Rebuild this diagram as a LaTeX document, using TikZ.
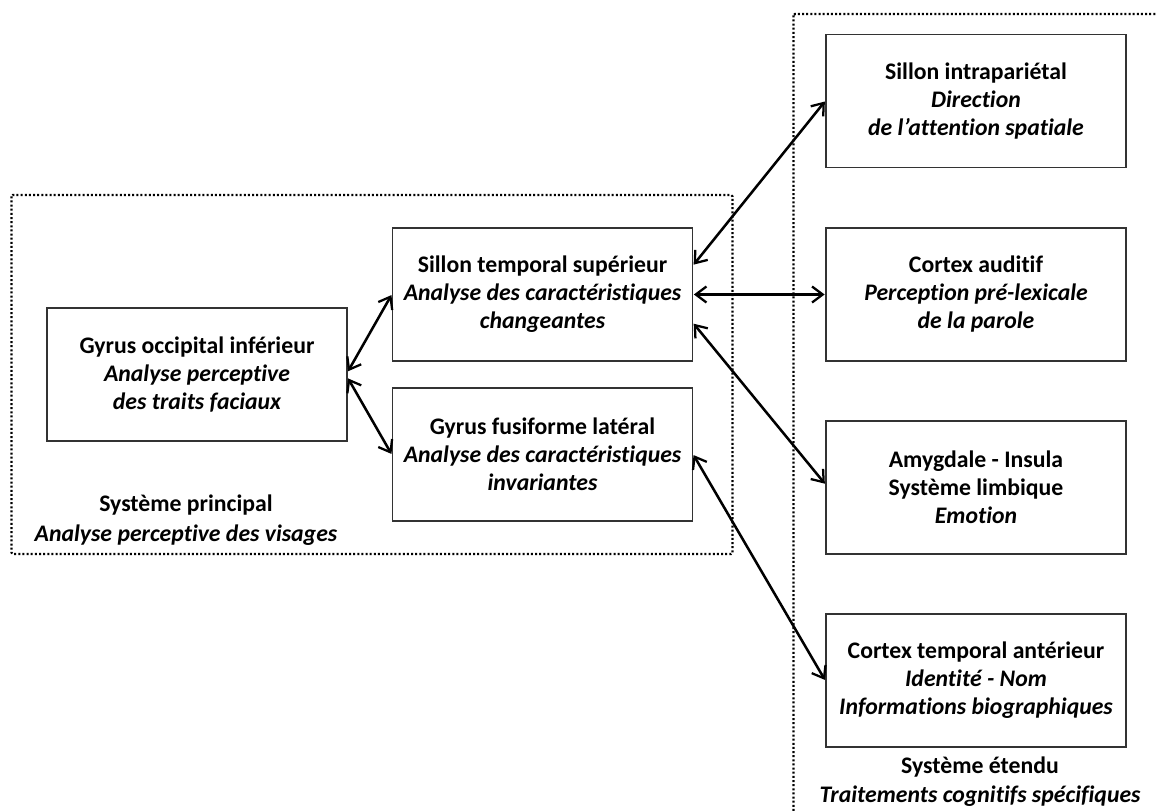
\documentclass[tikz,border=0pt]{standalone}
\usepackage{fontspec}
\setmainfont{Carlito}[Ligatures=NoCommon]
\usetikzlibrary{arrows.meta}
\begin{document}
\begin{tikzpicture}[x=0.75pt,y=-0.75pt,
  region/.style={line width=1.6pt, dash pattern=on 1.5pt off 1.6pt, rounded corners=1pt},
  area/.style={draw=black!80, line width=1.1pt, minimum width=225pt, minimum height=100pt,
     align=center, inner sep=0pt, font=\fontsize{17.8}{21}\selectfont\bfseries},
  lbl/.style={align=center, inner sep=0pt, font=\fontsize{17.8}{21.5}\selectfont\bfseries},
  link/.style={line width=1.9pt, {Straight Barb[length=8pt,width=12pt,line width=1.7pt]}-{Straight Barb[length=8pt,width=12pt,line width=1.7pt]}, shorten <=0.5pt, shorten >=0.5pt}]
\useasboundingbox (0,0) rectangle (1157,811);
\clip (0,0) rectangle (1157,811);
% dotted regions
\draw[region] (11.5,195) rectangle (732.5,554);
\draw[region] (793.5,14) rectangle (1175,830);
% boxes
\node[area] (occ) at (197,374.5) {Gyrus occipital inférieur\\\itshape Analyse perceptive\\\itshape des traits faciaux};
\node[area] (sts) at (542.5,294.5) {Sillon temporal supérieur\\\itshape Analyse des caractéristiques\\\itshape changeantes};
\node[area] (ffa) at (542.5,454.5) {Gyrus fusiforme latéral\\\itshape Analyse des caractéristiques\\\itshape invariantes};
\node[area] (ips) at (976,101) {Sillon intrapariétal\\\itshape Direction\\\itshape de l’attention spatiale};
\node[area] (aud) at (976,294.5) {Cortex auditif\\\itshape Perception pré-lexicale\\\itshape de la parole};
\node[area] (amy) at (976,487.5) {Amygdale - Insula\\Système limbique\\\itshape Emotion};
\node[area] (ata) at (976,680.5) {Cortex temporal antérieur\\\itshape Identité - Nom\\\itshape Informations biographiques};
% labels
\node[lbl, font=\fontsize{17.8}{22.5}\selectfont\bfseries] (lp) at (186,520.5) {Système principal\\\itshape Analyse perceptive des visages};
\node[lbl] (le) at (980,781.5) {Système étendu\\\itshape Traitements cognitifs spécifiques};
% connectors
\draw[link] ([yshift=2pt]occ.east) -- (sts.west);
\draw[link] ([yshift=-2.5pt]occ.east) -- (ffa.west);
\draw[link] ([yshift=22pt]sts.east) -- (ips.west);
\draw[link] (sts.east) -- (aud.west);
\draw[link] ([yshift=-21.5pt]sts.east) -- ([yshift=2.5pt]amy.west);
\draw[link] (ffa.east) -- (ata.west);
\end{tikzpicture}
\end{document}
